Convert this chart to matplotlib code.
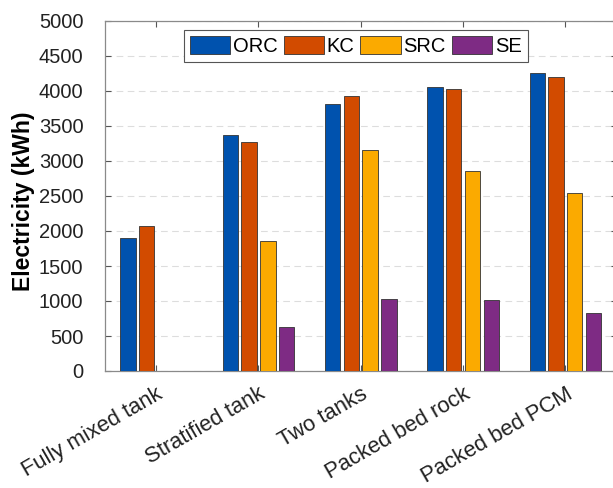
import numpy as np
import matplotlib.pyplot as plt

plt.rcParams['font.family'] = ['Liberation Sans', 'DejaVu Sans']

# storage options and electricity output per engine (kWh)
storage = ['Fully mixed tank', 'Stratified tank', 'Two tanks',
           'Packed bed rock', 'Packed bed PCM']
orc = [1895, 3367, 3810, 4052, 4262]
kc = [2076, 3271, 3933, 4024, 4200]
src = [0, 1857, 3157, 2862, 2543]
se = [0, 629, 1024, 1014, 833]

series = [('ORC', orc, '#0052AE'),
          ('KC', kc, '#D24B00'),
          ('SRC', src, '#FBAA00'),
          ('SE', se, '#7E2B84')]

fig = plt.figure(figsize=(6.13, 4.88), dpi=100)
ax = fig.add_axes([105 / 613, 1 - 371 / 488, 511.5 / 613, 350 / 488])

x = np.arange(1, len(storage) + 1)
width = 0.15
offsets = [-0.275, -0.092, 0.092, 0.275]
for (name, vals, col), off in zip(series, offsets):
    ax.bar(x + off, vals, width, color=col, edgecolor='#333333',
           linewidth=0.6, label=name, zorder=3)

ax.set_xlim(0.5, 5.5)
ax.set_ylim(0, 5000)
ax.set_yticks(np.arange(0, 5001, 500))
ax.set_xticks(x)
ax.set_xticklabels(storage, rotation=30, ha='right', va='top',
                   rotation_mode='anchor', fontsize=15.8, color='#222222')
ax.tick_params(axis='both', direction='in', color='#555555',
               top=True, right=True, length=4, width=0.8)
ax.tick_params(axis='y', labelsize=14.5, pad=15.5, labelcolor='#222222')
ax.tick_params(axis='x', pad=9)
ax.yaxis.grid(True, linestyle=(0, (6, 4)), color='#dddddd', linewidth=0.8,
              zorder=0)
for s in ax.spines.values():
    s.set_color('#8a8a8a')
    s.set_linewidth(0.9)

ax.set_ylabel('Electricity (kWh)', fontsize=16.5, fontweight='bold')
ax.yaxis.set_label_coords(-0.136, 0.486)

leg = ax.legend(ncol=4, loc='upper left', bbox_to_anchor=(0.154, 0.974),
                fontsize=14.5, handlelength=2.0, handleheight=1.0,
                handletextpad=0.15, columnspacing=0.28, borderpad=0.3,
                borderaxespad=0, fancybox=False, framealpha=1,
                edgecolor='#555555')
leg.get_frame().set_linewidth(0.8)

fig.savefig('out.png', dpi=100)
